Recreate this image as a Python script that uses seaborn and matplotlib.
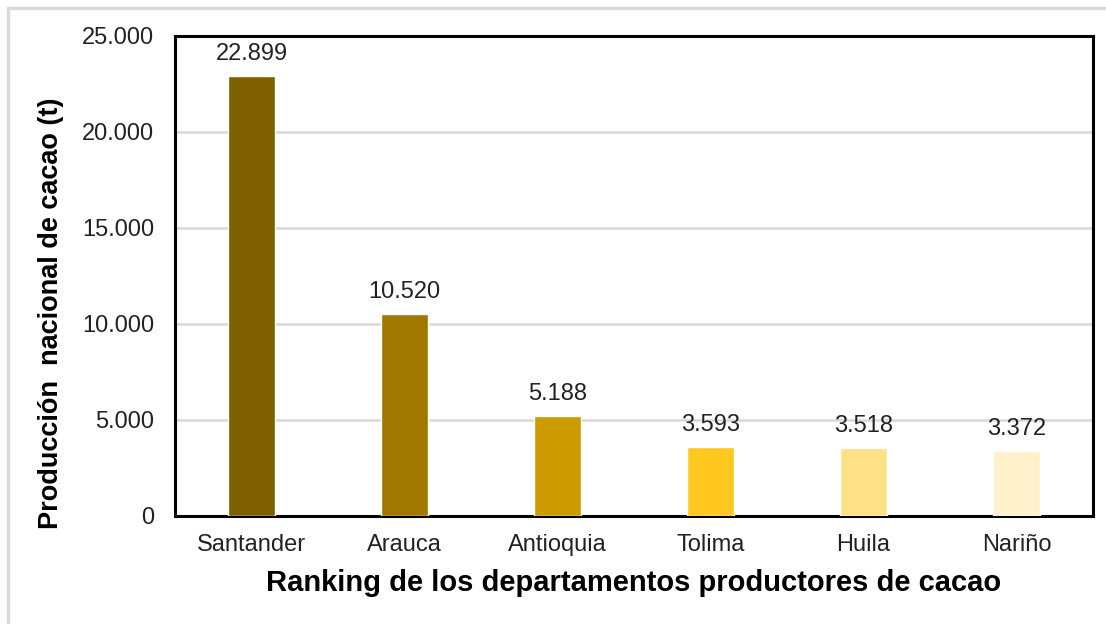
import pandas as pd
import matplotlib.pyplot as plt
import seaborn as sns
from matplotlib.patches import Rectangle
from matplotlib.ticker import FuncFormatter

departamentos = ["Santander", "Arauca", "Antioquia", "Tolima", "Huila", "Nariño"]
produccion = [22899, 10520, 5188, 3593, 3518, 3372]
colores = ["#7F6000", "#A07800", "#CC9C00", "#FFC820", "#FFE18A", "#FFF0CC"]

df = pd.DataFrame({"Departamento": departamentos, "Produccion": produccion})

sns.set_theme(style="white")
plt.rcParams["font.family"] = ["Liberation Sans", "DejaVu Sans"]


def miles(v, pos=None):
    return f"{int(round(v)):,}".replace(",", ".")


fig = plt.figure(figsize=(11.06, 6.24), dpi=100)
ax = fig.add_axes([175 / 1106, 1 - 516 / 624, 918 / 1106, 480 / 624])

sns.barplot(data=df, x="Departamento", y="Produccion", hue="Departamento",
            palette=colores, legend=False, width=0.31, saturation=1, ax=ax, zorder=3)

# Etiquetas de valor
for i, v in enumerate(produccion):
    ax.annotate(miles(v), (i, v), xytext=(0, 8), textcoords="offset points",
                ha="center", va="bottom", fontsize=17, color="#222222")

ax.set_ylim(0, 25000)
ax.set_yticks(range(0, 25001, 5000))
ax.yaxis.set_major_formatter(FuncFormatter(miles))
ax.grid(axis="y", color="#D9D9D9", linewidth=1.8, zorder=0)
ax.grid(axis="x", visible=False)
for s in ax.spines.values():
    s.set_visible(True)
    s.set_color("black")
    s.set_linewidth(2.2)

ax.tick_params(axis="both", labelsize=17, colors="#222222", length=0)
ax.tick_params(axis="x", pad=13)
ax.tick_params(axis="y", pad=15)
ax.set_xlabel("Ranking de los departamentos productores de cacao",
              fontsize=21, fontweight="bold", color="black", labelpad=9)
ax.set_ylabel("Producción  nacional de cacao (t)",
              fontsize=19.5, fontweight="bold", color="black")
ax.yaxis.set_label_coords(-0.121, 0.423)

# Marco exterior gris claro
fig.patches.append(Rectangle((8 / 1106, -0.1), 1.2, 1 - 8 / 624 + 0.1,
                             transform=fig.transFigure, fill=False,
                             edgecolor="#D9D9D9", linewidth=2.5))

fig.savefig("out.png", dpi=100)
